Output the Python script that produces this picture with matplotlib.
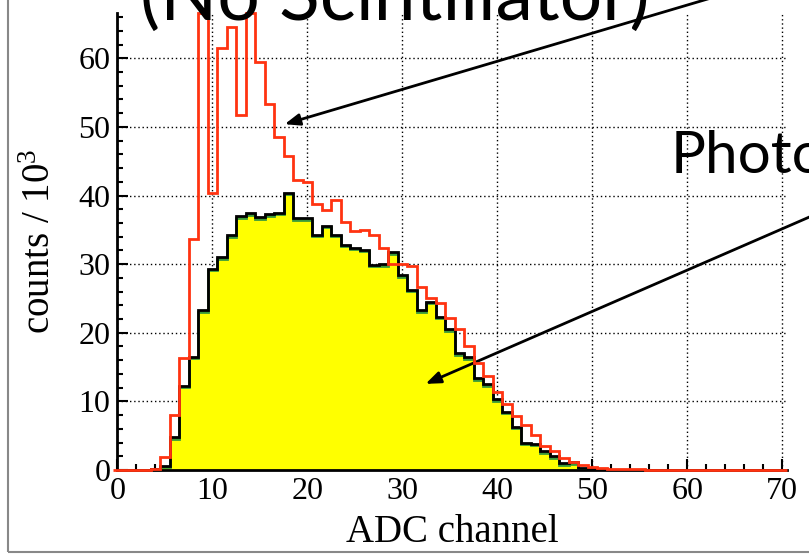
import numpy as np
import matplotlib
matplotlib.use("Agg")
import matplotlib.pyplot as plt
from matplotlib.patches import Rectangle
from matplotlib.transforms import offset_copy

# ADC spectra, counts / 10^3 per channel (channels 0..70)
channels = np.arange(0, 71)
photo_peak = [0, 0, 0, 0, 0.1, 0.6, 4.8, 12.3, 16.5, 23.3,
              29.3, 31.0, 34.2, 37.0, 37.4, 36.8, 37.3, 37.5, 40.4, 36.7,
              36.7, 34.3, 35.6, 34.3, 32.8, 32.4, 32.1, 29.9, 30.0, 31.7,
              28.4, 26.3, 23.3, 24.5, 22.3, 20.5, 17.0, 16.4, 13.4, 12.5,
              10.3, 8.5, 6.3, 4.0, 3.8, 2.7, 2.0, 1.0, 1.1, 0.35,
              0.15, 0.1, 0.05, 0, 0, 0, 0, 0, 0, 0,
              0, 0, 0, 0, 0, 0, 0, 0, 0, 0, 0]
no_scint = [0, 0, 0, 0.05, 0.2, 1.9, 8.0, 16.3, 33.7, 66.6,
            40.4, 61.5, 64.5, 51.8, 66.6, 59.4, 53.4, 48.6, 45.7, 42.3,
            42.0, 38.7, 37.9, 39.4, 36.2, 34.9, 35.0, 34.3, 32.4, 30.0,
            30.0, 29.7, 26.6, 25.0, 24.3, 22.1, 20.5, 18.1, 15.6, 13.7,
            11.4, 9.6, 7.8, 6.5, 5.1, 3.5, 2.7, 1.7, 1.2, 0.8,
            0.5, 0.35, 0.2, 0.15, 0.1, 0.08, 0.05, 0.03, 0, 0,
            0, 0, 0, 0, 0, 0, 0, 0, 0, 0, 0]
x_ticks = [0, 10, 20, 30, 40, 50, 60, 70]
y_ticks = [0, 10, 20, 30, 40, 50, 60]

edges = np.append(channels - 0.5, channels[-1] + 0.5)

fig = plt.figure(figsize=(8.09, 5.57), dpi=100)
ax = fig.add_axes([117.3 / 809, 87 / 557, 669.7 / 809, 457 / 557])

serif = "Liberation Serif"

ax.stairs(photo_peak, edges, fill=True, color="#ffff00", zorder=2)
green_tr = offset_copy(ax.transData, fig=fig, x=0, y=-1.5, units="dots")
ax.stairs(photo_peak, edges, color="#3a9a3a", lw=2, transform=green_tr, zorder=3)
ax.stairs(photo_peak, edges, color="black", lw=2, zorder=4)
ax.stairs(no_scint, edges, color="#ff3311", lw=2, zorder=5, clip_on=False)

ax.set_xlim(0, 70.5)
ax.set_ylim(0, 66.6)
ax.set_xticks(x_ticks)
ax.set_yticks(y_ticks)
ax.set_xticks(np.arange(0, 71, 2), minor=True)
ax.set_yticks(np.arange(0, 67, 2), minor=True)
ax.tick_params(which="both", direction="in", width=1.5, top=False, right=False)
ax.tick_params(which="major", length=8, labelsize=23, pad=5)
ax.tick_params(which="minor", length=4)
for lab in ax.get_xticklabels() + ax.get_yticklabels():
    lab.set_fontfamily(serif)

ax.grid(True, which="major", color="black", linestyle=(0, (1, 2)), lw=1)
ax.set_axisbelow(True)
for side in ["top", "right"]:
    ax.spines[side].set_visible(False)
for side in ["left", "bottom"]:
    ax.spines[side].set_linewidth(2)

ax.set_xlabel("ADC channel", fontsize=28, family=serif, labelpad=6)
ax.set_ylabel(r"counts / $\mathregular{10^3}$", fontsize=28, family=serif, labelpad=14)

# overlay texts and arrows (figure pixels)
def fpx(x, y):
    return (x / 809, 1 - y / 557)

fig.text(*fpx(140, 20), "(No Scintillator)", fontsize=54, family="Lato",
         ha="left", va="baseline")
fig.text(*fpx(671, 173), "Photo", fontsize=42, family="Lato",
         ha="left", va="baseline")

arrow = dict(arrowstyle="-|>,head_length=0.9,head_width=0.35", color="black", lw=2)
ax.annotate("", xy=fpx(282, 125), xytext=fpx(782, -23), xycoords="figure fraction",
            textcoords="figure fraction", arrowprops=arrow, annotation_clip=False)
ax.annotate("", xy=fpx(423, 385), xytext=fpx(860, 195), xycoords="figure fraction",
            textcoords="figure fraction", arrowprops=arrow, annotation_clip=False)

fig.patches.append(Rectangle(fpx(8, 552), 1.2, 1.2, transform=fig.transFigure,
                             fill=False, edgecolor="#888888", lw=1.5))

fig.savefig("out.png", dpi=100)
